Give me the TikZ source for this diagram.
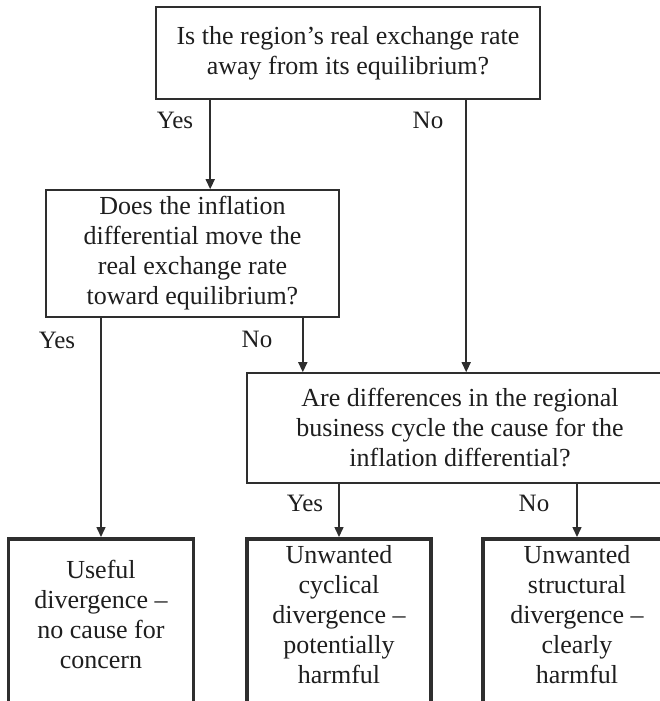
\documentclass[tikz,border=0pt]{standalone}
\usepackage{fontspec}
\setmainfont{Liberation Serif}
\usetikzlibrary{arrows.meta}
\definecolor{ink}{HTML}{1E1E1E}
\definecolor{linec}{HTML}{2E2E2E}
\newcommand{\padend}{\\[-16pt]\mbox{}}
\begin{document}
\begin{tikzpicture}[x=1pt,y=-1pt,
  box/.style={draw=linec,line width=1.6pt,rectangle,align=center,text=ink,
    font=\fontsize{26}{30}\selectfont,inner sep=0pt},
  endbox/.style={box,line width=3.6pt,anchor=north,minimum width=185pt,minimum height=165pt},
  arr/.style={draw=linec,line width=1.5pt,-{Triangle[length=10pt,width=9pt]}},
  lab/.style={text=ink,font=\fontsize{25}{30}\selectfont,inner sep=0pt}]
\useasboundingbox (0,0) rectangle (660,701);
\fill[white] (0,0) rectangle (660,701);

\node[box,minimum width=384pt,minimum height=92pt] (q1) at (348,53)
  {Is the region’s real exchange rate\\away from its equilibrium?};
\node[box,minimum width=293pt,minimum height=127pt] (q2) at (192.5,253.5)
  {Does the inflation\\differential move the\\real exchange rate\\toward equilibrium?};
\node[box,minimum width=426pt,minimum height=110pt] (q3) at (460,428)
  {Are differences in the regional\\business cycle the cause for the\\inflation differential?};

\node[endbox] (r1) at (101,537)
  {Useful\\divergence –\\no cause for\\concern\padend};
\node[endbox,minimum width=184pt] (r2) at (339,537)
  {Unwanted\\cyclical\\divergence –\\potentially\\harmful\padend};
\node[endbox,minimum width=188pt] (r3) at (577,537)
  {Unwanted\\structural\\divergence –\\clearly\\harmful\padend};

\draw[arr] ([xshift=55pt]q1.south west) -- ([xshift=55pt]q1.south west |- q2.north);
\draw[arr] ([xshift=311pt]q1.south west) -- ([xshift=311pt]q1.south west |- q3.north);
\draw[arr] (r1.north |- q2.south) -- (r1.north);
\draw[arr] ([xshift=-37pt]q2.south east) -- ([xshift=-37pt]q2.south east |- q3.north);
\draw[arr] (r2.north |- q3.south) -- (r2.north);
\draw[arr] (r3.north |- q3.south) -- (r3.north);

\node[lab] (l1) at (175,120) {Yes};
\node[lab] (l2) at (428,120) {No};
\node[lab] (l3) at (57,340) {Yes};
\node[lab] (l4) at (257,339) {No};
\node[lab] (l5) at (305,503) {Yes};
\node[lab] (l6) at (534,503) {No};
\end{tikzpicture}
\end{document}
